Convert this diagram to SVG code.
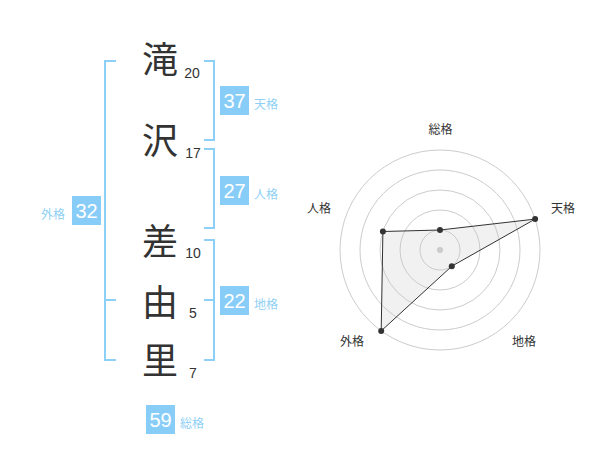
<svg xmlns="http://www.w3.org/2000/svg" width="600" height="470" viewBox="0 0 600 470">
<style>
.kanji{font-family:"Noto Sans CJK JP","Noto Sans CJK SC",sans-serif;font-size:36px;fill:#333;text-anchor:middle}
.num{font-family:"Liberation Sans",Arial,sans-serif;font-size:14px;fill:#333;text-anchor:middle}
.br{fill:none;stroke:#8ccff7;stroke-width:2}
.box{fill:#88cdf8}
.bt{font-family:"Liberation Sans",Arial,sans-serif;font-size:20px;fill:#fff;text-anchor:middle}
.bl{font-family:"Noto Sans CJK JP",sans-serif;font-size:12px;fill:#8fd0f5}
.rl{font-family:"Noto Sans CJK JP",sans-serif;font-size:12px;fill:#333;text-anchor:middle}
.ring{fill:none;stroke:#ccc;stroke-width:1}
.pt{fill:#333}
</style>
<rect width="600" height="470" fill="#fff"/>
<g id="chars">
<text class="kanji" x="160" y="73">滝</text>
<text class="kanji" x="160" y="154">沢</text>
<text class="kanji" x="160" y="255">差</text>
<text class="kanji" x="160" y="316">由</text>
<text class="kanji" x="160" y="374">里</text>
<text class="num" x="192" y="78">20</text>
<text class="num" x="193" y="158">17</text>
<text class="num" x="193" y="258">10</text>
<text class="num" x="193" y="318">5</text>
<text class="num" x="193" y="378">7</text>
</g>
<g id="connectors">
<path class="br" d="M116,61 H105 V360 H116 M105,300 H116"/>
<path class="br" d="M204,61 H214 V140 H204"/>
<path class="br" d="M204,149 H214 V228 H204"/>
<path class="br" d="M204,240 H214 V360 H204 M214,300 H204"/>
</g>
<g id="tenkaku">
<rect class="box" x="220" y="86" width="29" height="29"/>
<text class="bt" x="234.5" y="108">37</text>
<text class="bl" x="254" y="109">天格</text>
</g>
<g id="jinkaku">
<rect class="box" x="220" y="176" width="29" height="29"/>
<text class="bt" x="234.5" y="198">27</text>
<text class="bl" x="254" y="199">人格</text>
</g>
<g id="chikaku">
<rect class="box" x="220" y="286" width="29" height="29"/>
<text class="bt" x="234.5" y="308">22</text>
<text class="bl" x="254" y="309">地格</text>
</g>
<g id="gaikaku">
<rect class="box" x="72" y="196" width="29" height="29"/>
<text class="bt" x="86.5" y="218">32</text>
<text class="bl" x="41" y="219">外格</text>
</g>
<g id="soukaku">
<rect class="box" x="146" y="405" width="29" height="29"/>
<text class="bt" x="160.5" y="427">59</text>
<text class="bl" x="180" y="428">総格</text>
</g>
<g id="radar">
<circle class="ring" cx="440" cy="250" r="20"/>
<circle class="ring" cx="440" cy="250" r="40"/>
<circle class="ring" cx="440" cy="250" r="60"/>
<circle class="ring" cx="440" cy="250" r="80"/>
<circle class="ring" cx="440" cy="250" r="100"/>
<circle cx="440" cy="250" r="3" fill="#ccc"/>
<polygon points="440,230 535.1,219.1 451.8,266.2 381.2,330.9 382.9,231.5" fill="rgba(200,200,200,0.25)" stroke="#333" stroke-width="1"/>
<circle class="pt" cx="440" cy="230" r="3"/>
<circle class="pt" cx="535.1" cy="219.1" r="3"/>
<circle class="pt" cx="451.8" cy="266.2" r="3"/>
<circle class="pt" cx="381.2" cy="330.9" r="3"/>
<circle class="pt" cx="382.9" cy="231.5" r="3"/>
<text class="rl" x="440.5" y="134">総格</text>
<text class="rl" x="563" y="213">天格</text>
<text class="rl" x="319" y="213">人格</text>
<text class="rl" x="352" y="346">外格</text>
<text class="rl" x="524" y="346">地格</text>
</g>
</svg>
